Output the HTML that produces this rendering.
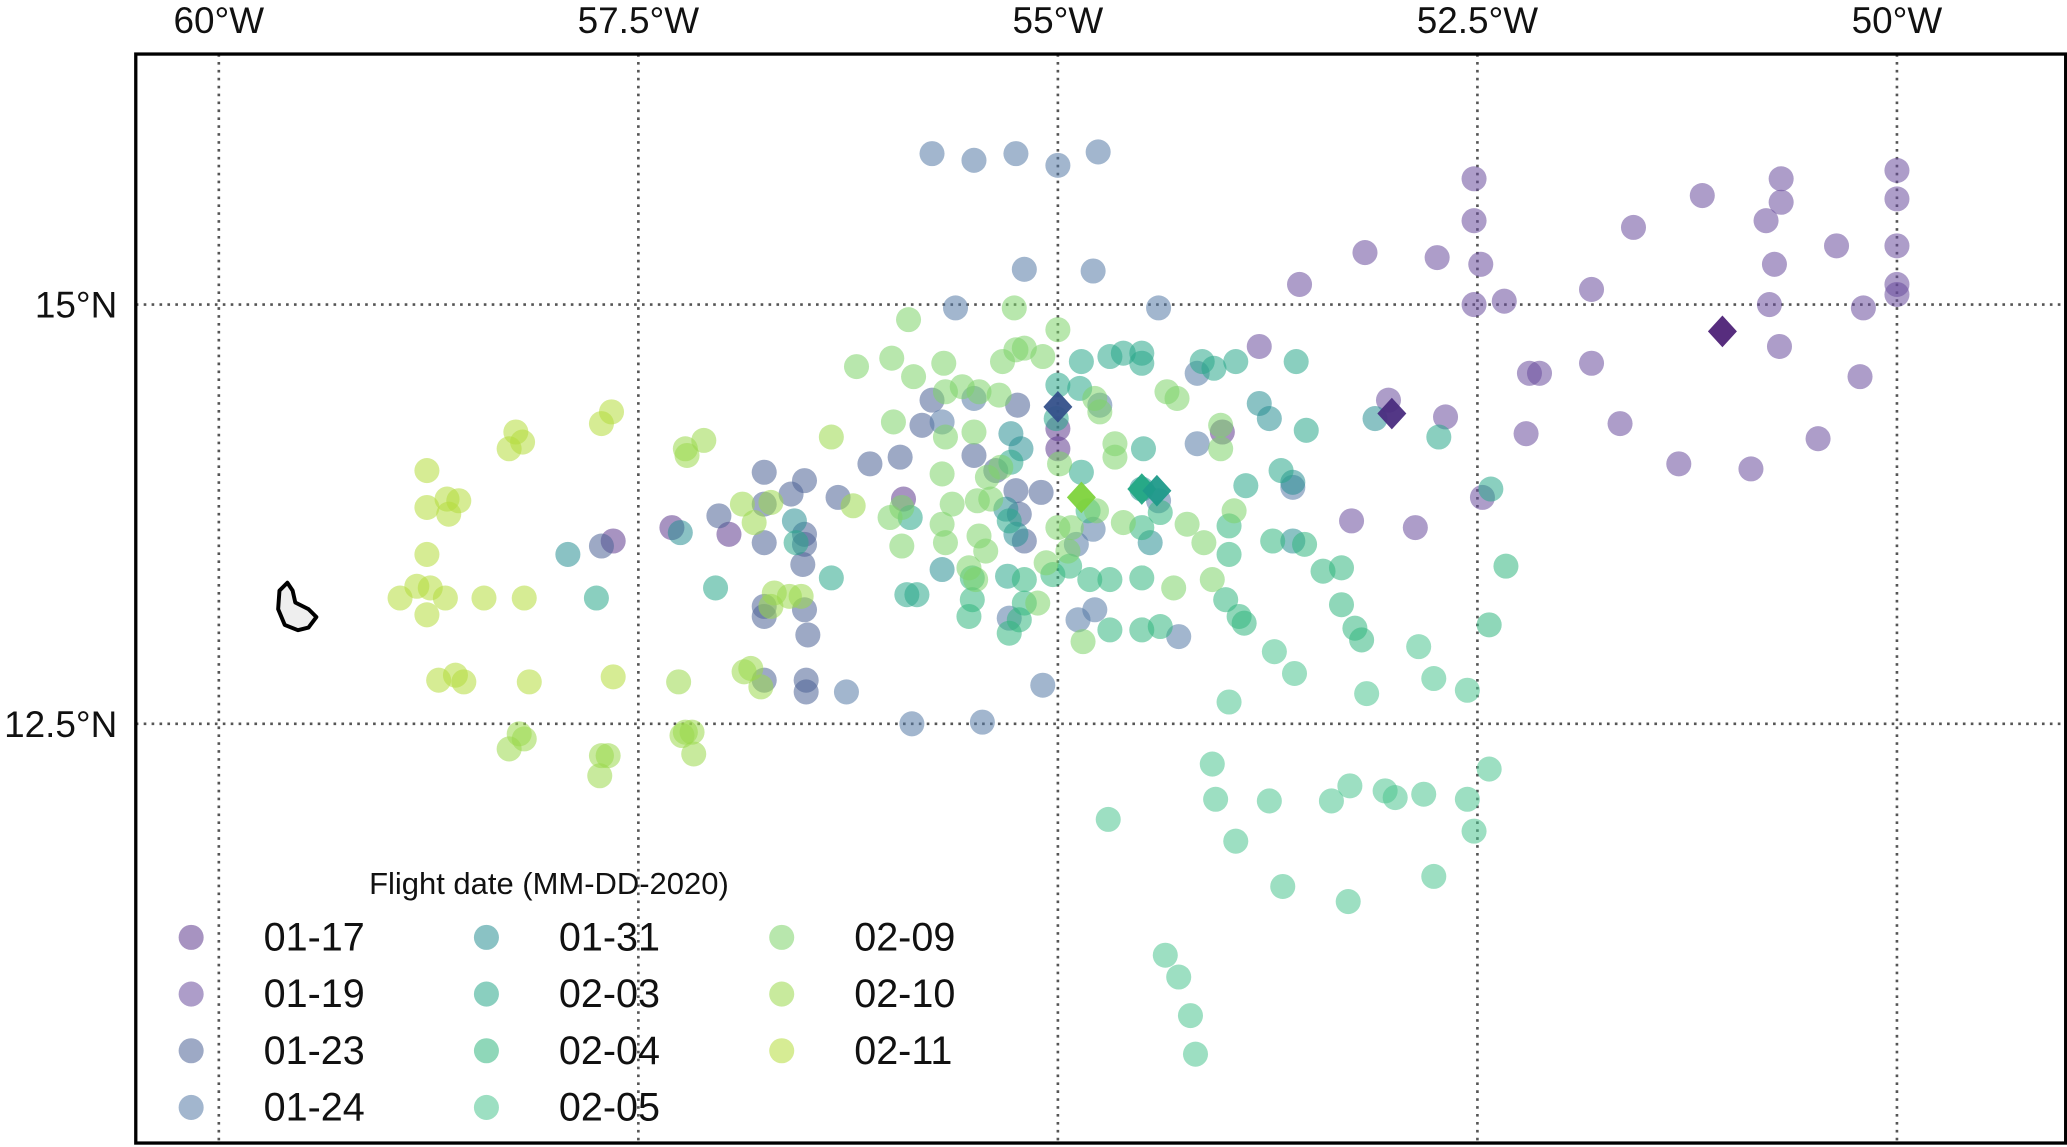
<!DOCTYPE html>
<html><head><meta charset="utf-8"><style>html,body{margin:0;padding:0;background:#fff}svg{display:block}text{font-family:"Liberation Sans",sans-serif}</style></head>
<body>
<svg id="chart" width="2067" height="1147" viewBox="0 0 1568 870" preserveAspectRatio="none" xmlns="http://www.w3.org/2000/svg">
<g id="grid"></g>
<polygon points="212,448 218,442 222,448 224,457 234,462 240,468 234,476 226,478 216,474 211,462" fill="#eee" stroke="#000" stroke-width="3" stroke-linejoin="round"/>
<g id="pts"></g>
<g id="dia"></g>
<rect x="103" y="41" width="1464" height="826" fill="none" stroke="#000" stroke-width="2.5"/>
<g id="ticks"></g>
<text x="280" y="678" font-size="23.5" fill="#111">Flight date (MM-DD-2020)</text>
<g id="legend"></g>
</svg>
<script>
const dates=["01-17","01-19","01-23","01-24","01-31","02-03","02-04","02-05","02-09","02-10","02-11"];
const colors=["#5e3a8e","#6a4d9c","#4c6395","#557aa6","#2a9093","#2aa88a","#33b67f","#4cc58f","#7ed46a","#9ad94c","#b5dd3c"];
const lonTicks=[-60,-57.5,-55,-52.5,-50];
const lonLabels=["60°W","57.5°W","55°W","52.5°W","50°W"];
const latTicks=[15,12.5];
const latLabels=["15°N","12.5°N"];
const d0117=[[-55.92,13.84],[-57.30,13.67],[-56.96,13.63],[-57.65,13.59],[-55.00,14.26],[-55.00,14.14],[-54.02,14.24]];
const d0119=[[-52.52,15.75],[-52.52,15.50],[-52.48,15.24],[-52.52,15.00],[-52.34,15.02],[-53.17,15.31],[-52.74,15.28],[-53.56,15.12],[-51.16,15.65],[-50.69,15.75],[-50.69,15.61],[-50.78,15.50],[-51.57,15.46],[-50.36,15.35],[-50.73,15.24],[-50.00,15.80],[-50.00,15.63],[-50.00,15.35],[-50.00,15.12],[-50.00,15.06],[-50.20,14.98],[-50.76,15.00],[-51.82,15.09],[-50.70,14.75],[-51.82,14.65],[-52.19,14.59],[-52.13,14.59],[-50.22,14.57],[-52.69,14.33],[-53.03,14.43],[-52.21,14.23],[-51.65,14.29],[-50.47,14.20],[-51.30,14.05],[-50.87,14.02],[-53.80,14.75],[-53.25,13.71],[-52.87,13.67],[-52.47,13.85]];
const d0123=[[-55.24,14.40],[-55.75,14.43],[-55.81,14.28],[-55.50,14.10],[-55.94,14.09],[-56.12,14.05],[-56.31,13.85],[-56.51,13.95],[-56.59,13.87],[-56.75,14.00],[-56.75,13.81],[-56.75,13.58],[-56.51,13.63],[-56.51,13.57],[-56.52,13.45],[-56.75,13.20],[-56.75,13.14],[-56.51,13.18],[-56.49,13.03],[-56.75,12.76],[-56.50,12.76],[-56.50,12.69],[-57.02,13.74],[-57.72,13.56],[-55.37,14.01],[-55.25,13.89],[-55.23,13.75],[-55.20,13.59],[-55.10,13.88]];
const d0124=[[-55.75,15.90],[-55.50,15.86],[-55.25,15.90],[-55.00,15.83],[-54.76,15.91],[-55.20,15.21],[-54.79,15.20],[-55.61,14.98],[-54.40,14.98],[-54.75,14.40],[-55.50,14.44],[-55.69,14.30],[-56.26,12.69],[-55.87,12.50],[-55.45,12.51],[-55.09,12.73],[-54.89,13.57],[-54.79,13.66],[-54.88,13.12],[-54.78,13.18],[-55.29,13.13],[-54.40,13.83],[-54.28,13.02],[-54.17,14.59],[-54.17,14.17],[-53.60,13.91]];
const d0131=[[-53.80,14.41],[-53.74,14.32],[-53.60,13.94],[-53.11,14.32],[-55.69,13.42],[-54.50,13.90],[-56.57,13.71],[-57.25,13.64],[-57.92,13.51],[-54.45,13.58],[-55.28,14.23],[-55.22,14.14],[-55.31,13.78],[-55.25,13.63],[-53.60,13.59]];
const d0203=[[-54.86,14.66],[-54.69,14.69],[-54.61,14.71],[-54.50,14.71],[-54.50,14.65],[-54.14,14.66],[-54.07,14.62],[-53.94,14.66],[-53.58,14.66],[-55.00,14.52],[-54.87,14.50],[-55.01,14.32],[-54.86,14.00],[-54.49,14.14],[-53.52,14.25],[-53.67,14.01],[-53.88,13.92],[-52.73,14.21],[-52.42,13.90],[-55.28,14.06],[-55.29,13.71],[-55.30,13.38],[-55.88,13.73],[-55.90,13.27],[-55.84,13.27],[-56.56,13.58],[-56.35,13.37],[-57.04,13.31],[-57.75,13.25]];
const d0204=[[-55.51,13.37],[-55.20,13.36],[-55.20,13.22],[-55.03,13.39],[-55.23,13.12],[-55.29,13.04],[-54.93,13.44],[-54.81,13.36],[-54.69,13.36],[-54.50,13.37],[-54.69,13.06],[-54.50,13.06],[-54.39,13.08],[-54.82,13.77],[-54.39,13.76],[-54.50,13.67],[-53.98,13.68],[-53.98,13.51],[-53.72,13.59],[-53.53,13.57],[-53.42,13.41],[-53.31,13.43],[-53.31,13.21],[-54.00,13.24],[-53.92,13.14],[-53.89,13.10],[-53.23,13.07],[-53.19,13.00],[-52.33,13.44],[-52.43,13.09],[-55.51,13.24],[-55.53,13.14]];
const d0205=[[-53.71,12.93],[-53.59,12.80],[-52.85,12.96],[-52.76,12.77],[-53.16,12.68],[-52.56,12.70],[-53.98,12.63],[-54.08,12.26],[-54.06,12.05],[-53.74,12.04],[-53.37,12.04],[-53.26,12.13],[-53.05,12.10],[-52.99,12.06],[-52.82,12.08],[-52.56,12.05],[-52.43,12.23],[-52.52,11.86],[-54.70,11.93],[-53.94,11.80],[-53.66,11.53],[-53.27,11.44],[-52.76,11.59],[-54.36,11.12],[-54.28,10.99],[-54.21,10.76],[-54.18,10.53]];
const d0209=[[-56.20,14.63],[-55.99,14.68],[-55.89,14.91],[-55.68,14.65],[-55.86,14.57],[-55.57,14.51],[-55.47,14.48],[-55.67,14.48],[-55.98,14.30],[-55.67,14.21],[-55.50,14.24],[-55.35,14.46],[-55.33,14.66],[-55.25,14.73],[-55.20,14.74],[-55.09,14.69],[-55.00,14.85],[-55.26,14.98],[-54.78,14.44],[-54.75,14.36],[-54.66,14.17],[-54.66,14.09],[-54.35,14.48],[-54.29,14.44],[-54.03,14.28],[-54.03,14.14],[-55.69,13.99],[-55.42,13.97],[-55.34,14.03],[-55.63,13.81],[-55.48,13.83],[-55.40,13.84],[-55.93,13.79],[-56.00,13.73],[-55.69,13.69],[-55.67,13.58],[-55.47,13.62],[-55.43,13.53],[-55.53,13.43],[-55.49,13.36],[-55.93,13.56],[-55.12,13.22],[-55.07,13.46],[-55.00,13.67],[-54.92,13.67],[-54.99,14.05],[-54.77,13.77],[-54.61,13.70],[-54.23,13.69],[-54.13,13.58],[-53.95,13.77],[-54.08,13.36],[-54.31,13.31],[-54.85,12.99],[-54.94,13.53]];
const d0210=[[-57.26,12.75],[-56.87,12.81],[-56.83,12.83],[-56.77,12.72],[-58.21,12.44],[-58.18,12.41],[-58.27,12.35],[-57.72,12.31],[-57.68,12.31],[-57.73,12.19],[-57.22,12.45],[-57.18,12.45],[-57.24,12.43],[-57.17,12.32],[-57.22,14.14],[-57.11,14.19],[-57.21,14.10],[-56.88,13.81],[-56.81,13.70],[-56.71,13.82],[-56.69,13.28],[-56.71,13.20],[-56.60,13.26],[-56.53,13.26],[-56.22,13.80],[-56.35,14.21]];
const d0211=[[-58.76,14.01],[-58.76,13.79],[-58.64,13.84],[-58.57,13.83],[-58.63,13.75],[-58.23,14.24],[-58.19,14.18],[-58.27,14.14],[-57.66,14.36],[-57.72,14.29],[-58.76,13.51],[-58.92,13.25],[-58.82,13.32],[-58.74,13.31],[-58.76,13.15],[-58.65,13.25],[-58.42,13.25],[-58.18,13.25],[-58.69,12.76],[-58.59,12.79],[-58.54,12.75],[-58.15,12.75],[-57.65,12.78]];
const seriesData=[d0117,d0119,d0123,d0124,d0131,d0203,d0204,d0205,d0209,d0210,d0211];
const centroidLon=[-55.00,-53.01,-51.04,-54.86,-54.50,-54.41];
const centroidLat=[14.39,14.35,14.84,13.85,13.90,13.89];
const centroidColor=["#34508a","#4a2c80","#4e2277","#7ed33c","#22a884","#1f9a8a"];

const NS="http://www.w3.org/2000/svg";
function xs(lon){return 166+(lon+60)*127.3;}
function ys(lat){return 231+(15-lat)*127.2;}
function mk(tag,attrs,parent){const e=document.createElementNS(NS,tag);for(const k in attrs)e.setAttribute(k,attrs[k]);parent.appendChild(e);return e;}
const grid=document.getElementById('grid'),ticks=document.getElementById('ticks');
lonTicks.forEach((t,i)=>{
 const l=mk('line',{x1:xs(t),x2:xs(t),y1:41,y2:867,stroke:'#555','stroke-width':2,'stroke-dasharray':'2,4'},grid);
 
 
 const tx=mk('text',{x:xs(t),y:25,'font-size':28,'text-anchor':'middle',fill:'#111'},ticks);
 tx.textContent=lonLabels[i];
 
 
});
latTicks.forEach((t,i)=>{
 const l=mk('line',{x1:103,x2:1567,y1:ys(t),y2:ys(t),stroke:'#555','stroke-width':2,'stroke-dasharray':'2,4'},grid);
 
 
 const tx=mk('text',{x:89,y:ys(t)+10,'font-size':28,'text-anchor':'end',fill:'#111'},ticks);
 tx.textContent=latLabels[i];
 
 
});
const pts=document.getElementById('pts');
seriesData.forEach((arr,si)=>{arr.forEach(p=>{
 const c=mk('circle',{cx:xs(p[0]),cy:ys(p[1]),r:9.5,fill:colors[si],'fill-opacity':0.55},pts);
 
 
});});
const dia=document.getElementById('dia');
centroidLon.forEach((lon,i)=>{
 const x=xs(lon),y=ys(centroidLat[i]);
 const p=mk('polygon',{points:`${x},${y-12} ${x+11},${y} ${x},${y+12} ${x-11},${y}`,fill:centroidColor[i],'fill-opacity':0.95},dia);
 
 
});
const lg=document.getElementById('legend');
dates.forEach((d,i)=>{
 const col=Math.floor(i/4),row=i%4;
 const mx=145+col*224,my=711+row*43;
 const c=mk('circle',{cx:mx,cy:my,r:9.5,fill:colors[i],'fill-opacity':0.55},lg);
 
 
 const t=mk('text',{x:mx+55,y:my+10,'font-size':30,fill:'#111'},lg);
 t.textContent=d;
 
 
});
</script>
</body></html>
